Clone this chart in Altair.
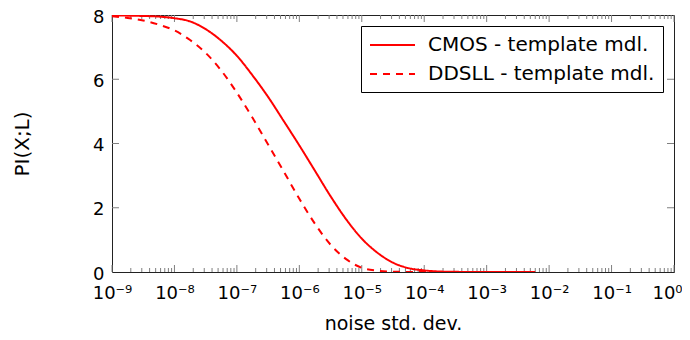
import altair as alt
import pandas as pd

# ---- data ----
x_cmos = [1e-9, 1.78e-9, 3.16e-9, 5.62e-9, 1e-8, 1.78e-8, 3.16e-8, 5.62e-8, 1e-7, 1.78e-7,
          3.16e-7, 5.62e-7, 1e-6, 1.78e-6, 3.16e-6, 5.62e-6, 1e-5, 1.78e-5, 3.16e-5, 5.62e-5,
          1e-4, 1.78e-4, 3.16e-4, 1e-3, 6e-3]
y_cmos = [7.99, 7.98, 7.97, 7.95, 7.9, 7.8, 7.56, 7.2, 6.73, 6.12,
          5.45, 4.7, 3.94, 3.15, 2.36, 1.64, 1.04, 0.6, 0.29, 0.12,
          0.05, 0.015, 0.005, 0.0, 0.0]

x_ddsll = [1e-9, 1.78e-9, 3.16e-9, 5.62e-9, 1e-8, 1.78e-8, 3.16e-8, 5.62e-8, 1e-7, 1.78e-7,
           3.16e-7, 5.62e-7, 1e-6, 1.78e-6, 3.16e-6, 5.62e-6, 1e-5, 1.78e-5, 3.16e-5, 1e-4,
           1e-3, 6e-3]
y_ddsll = [7.96, 7.91, 7.83, 7.7, 7.52, 7.22, 6.82, 6.27, 5.58, 4.8,
           3.97, 3.13, 2.28, 1.5, 0.85, 0.4, 0.13, 0.04, 0.01, 0.0,
           0.0, 0.0]

series_names = ["CMOS - template mdl.", "DDSLL - template mdl."]

x_tick_values = [1e-9, 1e-8, 1e-7, 1e-6, 1e-5, 1e-4, 1e-3, 1e-2, 1e-1, 1e0]
x_tick_labels = ["10⁻⁹", "10⁻⁸", "10⁻⁷", "10⁻⁶", "10⁻⁵", "10⁻⁴", "10⁻³", "10⁻²", "10⁻¹", "10⁰"]
y_tick_values = [0, 2, 4, 6, 8]

x_title = "noise std. dev."
y_title = "PI(X;L)"

W, H = 562, 257
FONT = "DejaVu Sans"

df = pd.concat([
    pd.DataFrame({"x": x_cmos, "y": y_cmos, "series": series_names[0]}),
    pd.DataFrame({"x": x_ddsll, "y": y_ddsll, "series": series_names[1]}),
])

minor_vals = [m * d for d in x_tick_values[:-1] for m in range(2, 10)]
major_df = pd.DataFrame({"x": x_tick_values})
minor_df = pd.DataFrame({"x": minor_vals})
ymaj_df = pd.DataFrame({"y": y_tick_values[1:-1]})

label_expr = ""
for v, lab in zip(x_tick_values, x_tick_labels):
    label_expr += f"datum.value < {v * 3:.0e} ? '{lab}' : "
label_expr += "''"

xscale = alt.Scale(type="log", domain=[1e-9, 1], nice=False)
yscale = alt.Scale(domain=[0, 8], nice=False)

lines = alt.Chart(df).mark_line(strokeWidth=2, interpolate="monotone", clip=True).encode(
    x=alt.X("x:Q", scale=xscale,
            axis=alt.Axis(values=x_tick_values, labelExpr=label_expr, ticks=False, domain=False,
                          grid=False, labelFontSize=18, labelPadding=12, labelFont=FONT,
                          labelColor="black", title=x_title, titleFontSize=19,
                          titleFont=FONT, titleFontWeight="normal", titlePadding=12,
                          titleColor="black", labelFlush=False, labelOverlap=False,
                          labelOffset={"condition": {"test": "datum.value > 0.5", "value": -7},
                                       "value": 0})),
    y=alt.Y("y:Q", scale=yscale,
            axis=alt.Axis(values=y_tick_values, ticks=False, domain=False, grid=False,
                          labelFontSize=18, labelPadding=8, labelFont=FONT, labelColor="black",
                          labelOffset=2, labelFlush=False,
                          title=y_title, titleFontSize=20, titleFont=FONT,
                          titleFontWeight="normal", titlePadding=60, titleColor="black")),
    color=alt.Color("series:N", scale=alt.Scale(domain=series_names, range=["red", "red"]),
                    legend=alt.Legend(title=None)),
    strokeDash=alt.StrokeDash("series:N",
                              scale=alt.Scale(domain=series_names, range=[[1, 0], [7, 6]]),
                              legend=alt.Legend(title=None)),
)

tick_color = "#7f7f7f"

def xticks(data, length):
    bot = alt.Chart(data).mark_rule(color=tick_color, strokeWidth=1).encode(
        x=alt.X("x:Q", scale=xscale), y=alt.value(H), y2=alt.value(H - length))
    top = alt.Chart(data).mark_rule(color=tick_color, strokeWidth=1).encode(
        x=alt.X("x:Q", scale=xscale), y=alt.value(0), y2=alt.value(length))
    return [bot, top]

yl = alt.Chart(ymaj_df).mark_rule(color=tick_color, strokeWidth=1).encode(
    y=alt.Y("y:Q", scale=yscale), x=alt.value(0), x2=alt.value(7))
yr = alt.Chart(ymaj_df).mark_rule(color=tick_color, strokeWidth=1).encode(
    y=alt.Y("y:Q", scale=yscale), x=alt.value(W), x2=alt.value(W - 7))

layers = xticks(major_df, 7) + xticks(minor_df, 4) + [yl, yr, lines]

chart = alt.layer(*layers).properties(
    width=W, height=H,
    padding={"left": 104, "top": 7, "right": 8, "bottom": 60},
    autosize=alt.AutoSizeParams(type="none"),
).configure_view(
    stroke="#222222", strokeWidth=1
).configure_legend(
    orient="top-right", offset=11, strokeColor="black", fillColor="white",
    padding=8, labelFontSize=20, labelFont=FONT, labelColor="black",
    symbolType="M-1,0H3.5", symbolSize=400, symbolStrokeWidth=2, rowPadding=8,
    labelOffset=37, cornerRadius=0, labelLimit=400
)

chart.save("out.html", embed_options={"renderer": "svg", "actions": False})
